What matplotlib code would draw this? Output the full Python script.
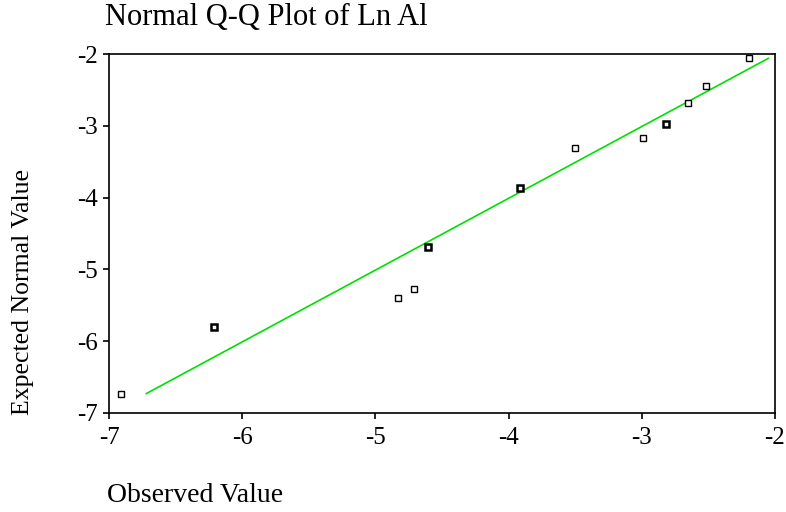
import matplotlib
matplotlib.use("Agg")
import matplotlib.pyplot as plt
import numpy as np

plt.rcParams['font.family'] = ['Liberation Serif', 'DejaVu Serif']

# observed (ln Al) vs expected normal value
observed = [-2.195, -2.519, -2.652, -2.815, -2.988, -3.501, -3.915, -4.602, -4.710, -4.827, -6.211, -6.907]
expected = [-2.056, -2.450, -2.687, -2.980, -3.174, -3.313, -3.862, -4.684, -5.273, -5.394, -5.806, -6.731]
ties = [1, 1, 1, 2, 1, 1, 2, 2, 1, 1, 2, 1]   # darker squares = repeated values

line_x = [-6.72, -2.05]
line_y = [-6.73, -2.06]

fig = plt.figure(figsize=(7.86, 5.12), dpi=100)
ax = fig.add_axes([0.1387, 0.1934, 0.8473, 0.7011])

ax.plot(line_x, line_y, color='#00e000', lw=1.2, zorder=2)
for x, y, n in zip(observed, expected, ties):
    ax.plot(x, y, 's', ms=5, mfc='white', mec='black', mew=1.0 + 0.8*(n-1), zorder=3)

ax.set_xlim(-7, -2)
ax.set_ylim(-7, -2)
ax.set_xticks([-7, -6, -5, -4, -3, -2])
ax.set_yticks([-7, -6, -5, -4, -3, -2])
ax.set_xticklabels(['-7', '-6', '-5', '-4', '-3', '-2'])
ax.set_yticklabels(['-7', '-6', '-5', '-4', '-3', '-2'])
ax.tick_params(direction='out', length=4, width=1.2, labelsize=18)
ax.tick_params(axis='x', pad=6)
ax.tick_params(axis='y', pad=4)
for s in ax.spines.values():
    s.set_linewidth(1.2)

fig.text(0.134, 0.965, 'Normal Q-Q Plot of Ln Al', fontsize=22, va='center', ha='left')
fig.text(0.136, 0.033, 'Observed Value', fontsize=20, va='center', ha='left')
fig.text(0.029, 0.43, 'Expected Normal Value', fontsize=18.5, va='center', ha='center', rotation=90)

fig.savefig('out.png', dpi=100)
